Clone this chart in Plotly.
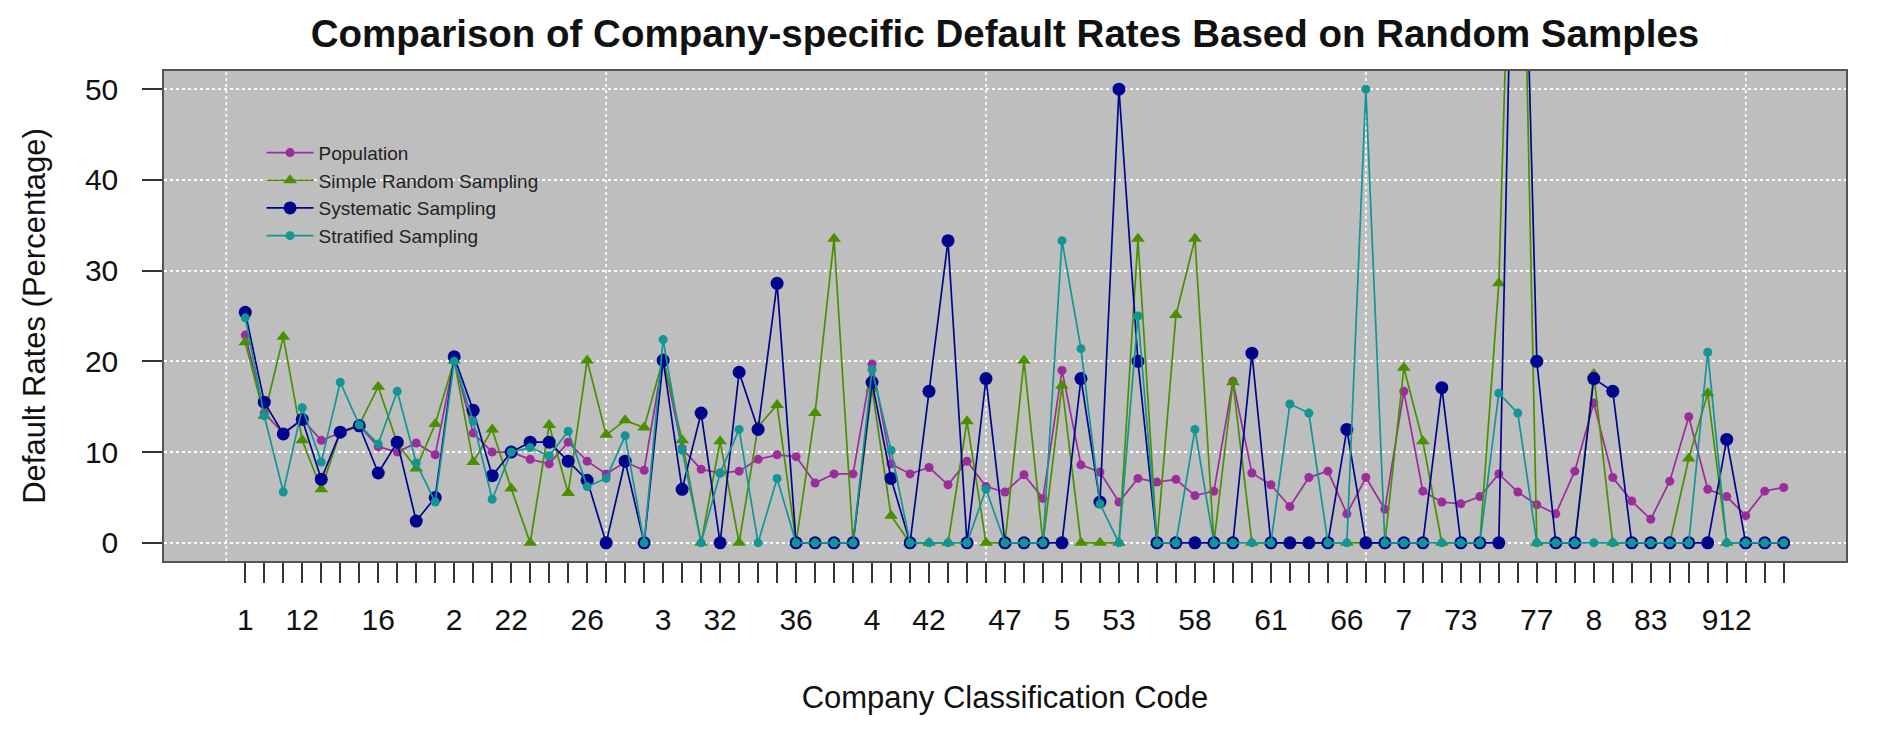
import plotly.graph_objects as go

# ---------------- data ----------------
codes = ["1", "10", "11", "12", "13", "14", "15", "16", "17", "18", "19",
         "2", "20", "21", "22", "23", "24", "25", "26", "27", "28", "29",
         "3", "30", "31", "32", "33", "34", "35", "36", "37", "38", "39",
         "4", "40", "41", "42", "43", "45", "46", "47", "48", "49",
         "5", "50", "51", "53", "54", "55", "57", "58", "59",
         "6", "60", "61", "62", "63", "65", "66", "67", "69",
         "7", "70", "72", "73", "74", "75", "76", "77", "78", "79",
         "8", "80", "82", "83", "84", "85", "86", "912", "92", "93", "94"]

shown_labels = ["1", "12", "16", "2", "22", "26", "3", "32", "36", "4", "42", "47",
                "5", "53", "58", "61", "66", "7", "73", "77", "8", "83", "912"]

population = [22.9, 14.3, 12.1, 13.6, 11.3, 12.1, 12.9, 10.6, 10.0, 11.0, 9.7,
              20.2, 12.1, 10.0, 10.0, 9.2, 8.7, 11.1, 9.0, 7.6, 8.9, 8.0,
              20.4, 10.4, 8.1, 7.7, 7.9, 9.2, 9.7, 9.5, 6.6, 7.6, 7.6,
              19.7, 8.7, 7.6, 8.3, 6.4, 9.0, 6.2, 5.6, 7.5, 4.9,
              19.0, 8.6, 7.8, 4.5, 7.1, 6.7, 7.0, 5.2, 5.7,
              17.8, 7.7, 6.4, 4.0, 7.2, 7.9, 3.2, 7.2, 3.7,
              16.7, 5.7, 4.5, 4.3, 5.1, 7.6, 5.6, 4.2, 3.2, 7.9,
              15.4, 7.2, 4.6, 2.6, 6.8, 13.9, 5.9, 5.1, 3.0, 5.7, 6.1]

simple_random = [22.1, 14.0, 22.7, 11.3, 5.9, 12.2, 13.0, 17.2, 11.0, 8.2, 13.1,
                 20.1, 8.9, 12.5, 6.0, 0, 13.0, 5.5, 20.1, 11.9, 13.5, 12.7,
                 20.3, 11.3, 0, 11.2, 0, 12.8, 15.2, 0, 14.3, 33.5, 0,
                 17.0, 3.0, 0, 0, 0, 13.4, 0, 0, 20.1, 0,
                 17.3, 0, 0, 0, 33.5, 0, 25.1, 33.5, 0,
                 17.7, 0, 0, 0, 0, 0, 0, 0, 0,
                 19.3, 11.2, 0, 0, 0, 28.6, 100.0, 0, 0, 0,
                 18.6, 0, 0, 0, 0, 9.3, 16.5, 0, 0, 0, 0]

systematic = [25.4, 15.5, 12.0, 13.6, 7.0, 12.2, 12.9, 7.7, 11.1, 2.4, 5.0,
              20.5, 14.6, 7.4, 10.0, 11.1, 11.1, 9.0, 6.9, 0, 9.0, 0,
              20.1, 5.9, 14.3, 0, 18.8, 12.5, 28.6, 0, 0, 0, 0,
              17.7, 7.1, 0, 16.7, 33.3, 0, 18.1, 0, 0, 0,
              0, 18.1, 4.5, 50.0, 20.0, 0, 0, 0, 0,
              0, 20.9, 0, 0, 0, 0, 12.5, 0, 0,
              0, 0, 17.1, 0, 0, 0, 100.0, 20.0, 0, 0,
              18.1, 16.7, 0, 0, 0, 0, 0, 11.4, 0, 0, 0]

stratified = [24.8, 14.0, 5.6, 14.9, 8.9, 17.7, 13.0, 10.9, 16.7, 8.8, 4.5,
              20.0, 13.4, 4.8, 10.0, 10.5, 9.6, 12.3, 6.2, 7.1, 11.8, 0,
              22.4, 10.2, 0, 7.7, 12.5, 0, 7.1, 0, 0, 0, 0,
              19.1, 10.2, 0, 0, 0, 0, 5.9, 0, 0, 0,
              33.3, 21.4, 4.3, 0, 25.0, 0, 0, 12.5, 0,
              0, 0, 0, 15.3, 14.3, 0, 0, 50.0, 0,
              0, 0, 0, 0, 0, 16.5, 14.3, 0, 0, 0,
              0, 0, 0, 0, 0, 0, 21.0, 0, 0, 0, 0]

y_ticks = [0, 10, 20, 30, 40, 50]
x_grid_data = [0, 20, 40, 60, 80]   # R grid positions (1-based x)

# ---------------- styling ----------------
FONT = "Liberation Sans, Arial, Helvetica, sans-serif"
series = [
    ("Population", population, "#9C2C9C", "circle", 9),
    ("Simple Random Sampling", simple_random, "#4A8F00", "triangle-up", 12),
    ("Systematic Sampling", systematic, "#00058E", "circle", 13),
    ("Stratified Sampling", stratified, "#129595", "circle", 9),
]

tick_text = [c if c in shown_labels else "" for c in codes]

fig = go.Figure()
for name, vals, col, sym, size in series:
    fig.add_trace(go.Scatter(
        x=codes, y=vals, name=name, mode="lines+markers",
        line=dict(color=col, width=1.7),
        marker=dict(color=col, symbol=sym, size=size, line=dict(width=0)),
    ))

shapes = []
for gx in x_grid_data:
    shapes.append(dict(type="line", xref="x", yref="paper",
                       x0=gx - 1, x1=gx - 1, y0=0, y1=1, layer="below",
                       line=dict(color="white", width=1.6, dash="dot")))

W, H = 1884, 719   # page body keeps an 8px margin inside the 1900x735 window
fig.update_layout(
    width=W, height=H,
    margin=dict(l=156, r=46, t=63, b=166),
    paper_bgcolor="white", plot_bgcolor="#BEBEBE",
    font=dict(family=FONT, size=30, color="#111111"),
    title=dict(text="<b>Comparison of Company-specific Default Rates Based on Random Samples</b>",
               x=0.5, xref="paper", xanchor="center",
               y=1 - 26 / H, yref="container", yanchor="middle",
               font=dict(family=FONT, size=38.5, color="#111111")),
    shapes=shapes,
    showlegend=True,
    legend=dict(x=0.058, y=0.872, xanchor="left", yanchor="top",
                bgcolor="rgba(0,0,0,0)", font=dict(family=FONT, size=19, color="#222222"),
                tracegroupgap=0, itemwidth=47),
    xaxis=dict(type="category", categoryorder="array", categoryarray=codes,
               range=[-4.28, 84.28], tickmode="array", tickvals=codes, ticktext=tick_text,
               ticks="outside", ticklen=20, tickwidth=1.5, tickcolor="#333333",
               showgrid=False, zeroline=False,
               showline=True, mirror=True, linecolor="#555555", linewidth=1.5,
               tickfont=dict(family=FONT, size=30, color="#111111"),
               ticklabelstandoff=11,
               title=dict(text="Company Classification Code", standoff=52,
                          font=dict(family=FONT, size=31, color="#111111"))),
    yaxis=dict(range=[-2, 52], tickmode="array", tickvals=y_ticks,
               ticks="outside", ticklen=20, tickwidth=1.5, tickcolor="#333333",
               showgrid=True, gridcolor="white", gridwidth=1.6, griddash="dot",
               zeroline=False,
               showline=True, mirror=True, linecolor="#555555", linewidth=1.5,
               tickfont=dict(family=FONT, size=30, color="#111111"),
               ticklabelstandoff=18,
               title=dict(text="Default Rates (Percentage)", standoff=30,
                          font=dict(family=FONT, size=31, color="#111111"))),
)

fig.write_html("out.html")
